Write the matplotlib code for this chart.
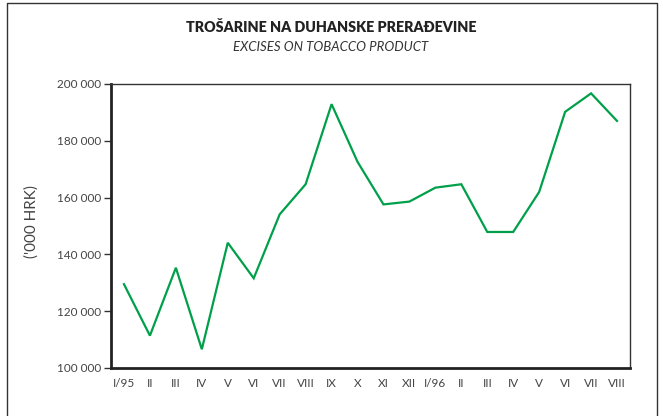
import matplotlib
matplotlib.use('Agg')
import matplotlib.pyplot as plt
from matplotlib.lines import Line2D

# monthly excises on tobacco products, '000 HRK
months = ['I/95', 'II', 'III', 'IV', 'V', 'VI', 'VII', 'VIII', 'IX', 'X', 'XI', 'XII',
          'I/96', 'II', 'III', 'IV', 'V', 'VI', 'VII', 'VIII']
excises = [129500, 111400, 135300, 106600, 144100, 131600, 154100, 164700, 192900, 172600,
           157600, 158600, 163500, 164700, 147900, 147900, 162000, 190200, 196700, 187000]
yticks = [100000, 120000, 140000, 160000, 180000, 200000]

plt.rcParams['font.family'] = ['Lato', 'DejaVu Sans']

fig = plt.figure(figsize=(6.63, 4.16), dpi=100)
ax = fig.add_axes([111/663, 48/416, 519/663, 284/416])

x = list(range(len(months)))
ax.plot(x, excises, color='#00a04a', lw=1.6, solid_joinstyle='miter')

ax.set_xlim(-0.5, 19.5)
ax.set_ylim(100000, 200000)
ax.set_xticks(x)
ax.set_xticklabels(months)
ax.set_yticks(yticks)
ax.set_yticklabels([f'{v:,}'.replace(',', ' ') for v in yticks])
ax.tick_params(axis='x', length=0, pad=7, labelsize=8.5, colors='#444444')
ax.tick_params(axis='y', length=5, width=1, pad=2, labelsize=8.5, colors='#444444')
ax.tick_params(axis='y', color='#333333')

for side in ['left', 'bottom']:
    ax.spines[side].set_linewidth(2)
    ax.spines[side].set_color('#222222')
for side in ['top', 'right']:
    ax.spines[side].set_linewidth(1)
    ax.spines[side].set_color('#333333')

# y label placed by hand, like in the source layout
fig.text(32/663, 1 - 222/416, "('000 HRK)", rotation=90, ha='center', va='center',
         fontsize=11, color='#444444')

fig.text(331/663, 1 - 27/416, 'TROŠARINE NA DUHANSKE PRERAĐEVINE', ha='center', va='center',
         fontsize=10.3, fontweight='heavy', color='#222222')
fig.text(331/663, 1 - 47/416, 'EXCISES ON TOBACCO PRODUCT', ha='center', va='center',
         fontsize=9.5, style='italic', color='#333333')

# outer frame (open at the bottom)
fig.add_artist(Line2D([7/663, 7/663, 657/663, 657/663], [0, 1 - 3/416, 1 - 3/416, 0],
                      transform=fig.transFigure, color='#333333', lw=1))

fig.savefig('out.png', dpi=100)
